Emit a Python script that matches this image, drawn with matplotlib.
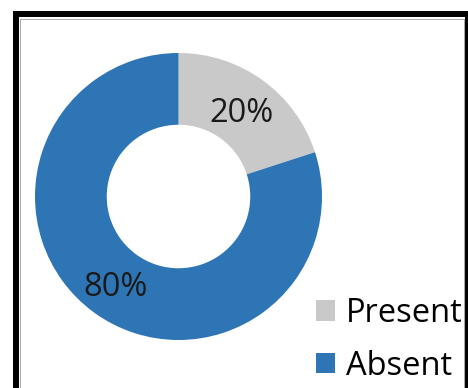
import matplotlib.pyplot as plt
from matplotlib.patches import Rectangle

# data
labels = ['Present', 'Absent']
values = [20, 80]
colors = ['#C9C9C9', '#2E75B6']

plt.rcParams['font.family'] = ['Open Sans', 'DejaVu Sans']

W, H = 468, 388
fig = plt.figure(figsize=(W / 100, H / 100), dpi=100)

# donut axes: center (178.5, 196.5) px, radius 143.5 px
cx, cy, r = 178.5, 196.5, 143.5
ax = fig.add_axes([(cx - r) / W, (H - cy - r) / H, 2 * r / W, 2 * r / H])
wedges, texts, autotexts = ax.pie(values, colors=colors, startangle=90, counterclock=False,
                                  radius=1, autopct='%1.0f%%', pctdistance=0.75,
                                  wedgeprops=dict(width=0.5, linewidth=0),
                                  textprops=dict(fontsize=23.5, color='#1a1a1a'))
for t in autotexts:
    t.set_va('center_baseline')
ax.set_xlim(-1, 1)
ax.set_ylim(-1, 1)
ax.set_aspect('equal')
ax.axis('off')

# legend, bottom right
fig.legend(wedges, labels, loc='upper left', bbox_to_anchor=(316 / W, 1 - 297 / H),
           frameon=False, fontsize=23.5, borderpad=0, borderaxespad=0,
           handlelength=0.58, handleheight=0.58, handletextpad=0.35, labelspacing=0.6)

# outer frame
fig.patches.append(Rectangle((16 / W, -0.1), (467.5 - 16) / W, 1.1 - 14 / H,
                             transform=fig.transFigure, fill=False,
                             edgecolor='black', linewidth=4.3, zorder=10))
fig.patches.append(Rectangle((19.5 / W, -0.1), (463.5 - 19.5) / W, 1.1 - 18.5 / H,
                             transform=fig.transFigure, fill=False,
                             edgecolor='#a8a8a8', linewidth=0.7, zorder=9))

fig.savefig('out.png', dpi=100)
